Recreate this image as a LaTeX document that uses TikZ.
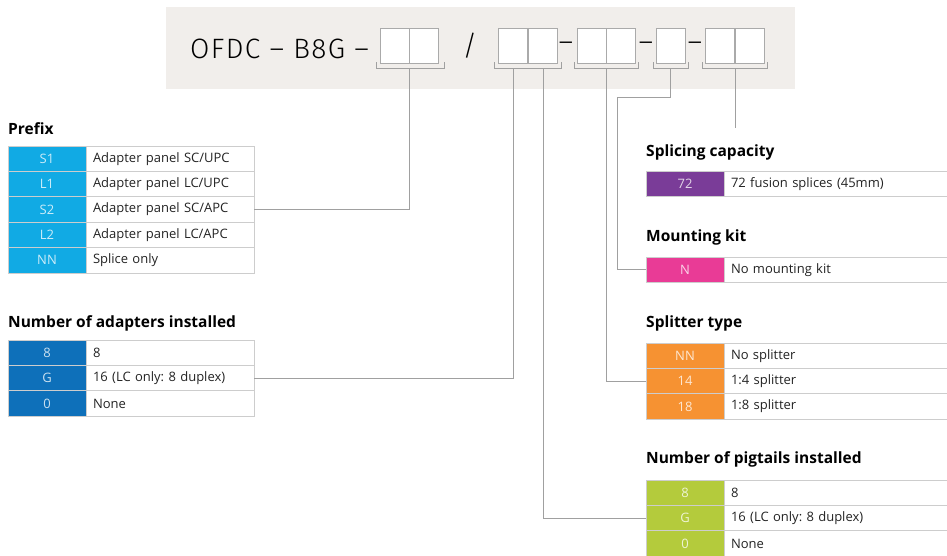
\documentclass[tikz,border=0pt]{standalone}
\usepackage{fontspec}
\setmainfont{Open Sans}
\newfontfamily\titlefont{Fira Sans Light}[LetterSpace=5]
\usetikzlibrary{positioning}
\frenchspacing
\definecolor{titlebg}{RGB}{241,238,235}
\definecolor{slotgray}{RGB}{170,170,170}
\definecolor{wiregray}{RGB}{160,160,160}
\definecolor{cellgray}{RGB}{205,205,205}
\definecolor{textgray}{RGB}{35,35,35}
\definecolor{prefixblue}{RGB}{17,170,228}
\definecolor{adapterblue}{RGB}{14,112,186}
\definecolor{spliceviolet}{RGB}{122,60,152}
\definecolor{mountpink}{RGB}{233,59,150}
\definecolor{splitorange}{RGB}{246,146,50}
\definecolor{pigtailgreen}{RGB}{180,203,60}
\tikzset{
  code/.style={fill=#1, text=white!78!#1, draw=cellgray, line width=0.8pt, minimum width=78pt, minimum height=25.4pt, inner sep=0pt, outer sep=0pt, font=\fontsize{13}{15}\selectfont},
  desc/.style={draw=cellgray, line width=0.8pt, text=textgray, minimum height=25.4pt, inner xsep=7pt, inner ysep=0pt, outer sep=0pt, align=left, text width=154pt, minimum width=168pt, font=\fontsize{13}{15}\selectfont},
  wdesc/.style={desc, text width=226pt, minimum width=240pt},
  head/.style={anchor=base west, inner sep=0pt, text=black, font=\bfseries\fontsize{15.5}{18}\selectfont},
  slot/.style={draw=slotgray, fill=white, line width=0.9pt, minimum width=29pt, minimum height=35pt, inner sep=0pt},
  wire/.style={draw=wiregray, line width=0.9pt}
}
\begin{document}
\begin{tikzpicture}[x=1pt, y=-1pt]
\useasboundingbox (0,0) rectangle (947,555);
% ordering code
\fill[titlebg] (166,7) rectangle (795,89);
\node[anchor=base west, inner sep=0pt, font=\titlefont\fontsize{28}{30}\selectfont] (title) at (190,58) {OFDC – B8G –};
\foreach \n/\x in {a/395,b/424,c/513,d/542.5,e/591.5,f/620.5,g/671,h/720,i/750} \node[slot] (s\n) at (\x,45.5) {};
\node[font=\titlefont\fontsize{28}{30}\selectfont] (slash) at (470,46) {/};
\node[font=\titlefont\fontsize{28}{30}\selectfont] (dash1) at (566,47) {–};
\node[font=\titlefont\fontsize{28}{30}\selectfont] (dash2) at (646,47) {–};
\node[font=\titlefont\fontsize{28}{30}\selectfont] (dash3) at (695,47) {–};
\draw[wire] (376,62) -- (376,68) -- (444,68) -- (444,62);\draw[wire] (494,62) -- (494,68) -- (561,68) -- (561,62);\draw[wire] (574,62) -- (574,68) -- (638,68) -- (638,62);\draw[wire] (653,62) -- (653,68) -- (688,68) -- (688,62);\draw[wire] (702,62) -- (702,68) -- (767,68) -- (767,62);
\coordinate (k1) at (409,68);\coordinate (k2) at (513,68);\coordinate (k3) at (543,68);\coordinate (k4) at (606,68);\coordinate (k5) at (670,68);\coordinate (k6) at (735,68);
% prefix
\node[head] (hprefix) at (8,134) {Prefix};
\node[code=prefixblue, anchor=north west] (pS1) at (8,146) {S1};\node[desc, right=0pt of pS1] (dS1) {Adapter panel SC/UPC};
\node[code=prefixblue, below=0pt of pS1] (pL1) {L1};\node[desc, right=0pt of pL1] (dL1) {Adapter panel LC/UPC};
\node[code=prefixblue, below=0pt of pL1] (pS2) {S2};\node[desc, right=0pt of pS2] (dS2) {Adapter panel SC/APC};
\node[code=prefixblue, below=0pt of pS2] (pL2) {L2};\node[desc, right=0pt of pL2] (dL2) {Adapter panel LC/APC};
\node[code=prefixblue, below=0pt of pL2] (pNN) {NN};\node[desc, right=0pt of pNN] (dNN) {Splice only};
% adapters
\node[head] (hadapt) at (8,327) {Number of adapters installed};
\node[code=adapterblue, anchor=north west] (a8) at (8,340) {8};\node[desc, right=0pt of a8] (da8) {8};
\node[code=adapterblue, below=0pt of a8] (aG) {G};\node[desc, right=0pt of aG] (daG) {16 (LC only: 8 duplex)};
\node[code=adapterblue, below=0pt of aG] (a0) {0};\node[desc, right=0pt of a0] (da0) {None};
% splicing capacity
\node[head] (hsplice) at (646,156) {Splicing capacity};
\node[code=spliceviolet, anchor=north west] (c72) at (646,171) {72};\node[wdesc, right=0pt of c72] (dc72) {72 fusion splices (45mm)};
% mounting kit
\node[head] (hmount) at (646,241) {Mounting kit};
\node[code=mountpink, anchor=north west] (mN) at (646,257) {N};\node[wdesc, right=0pt of mN] (dmN) {No mounting kit};
% splitter
\node[head] (hsplit) at (646,327) {Splitter type};
\node[code=splitorange, anchor=north west] (tNN) at (646,343) {NN};\node[wdesc, right=0pt of tNN] (dtNN) {No splitter};
\node[code=splitorange, below=0pt of tNN] (t14) {14};\node[wdesc, right=0pt of t14] (dt14) {1:4 splitter};
\node[code=splitorange, below=0pt of t14] (t18) {18};\node[wdesc, right=0pt of t18] (dt18) {1:8 splitter};
% pigtails
\node[head] (hpig) at (646,463) {Number of pigtails installed};
\node[code=pigtailgreen, anchor=north west] (g8) at (646,480) {8};\node[wdesc, right=0pt of g8] (dg8) {8};
\node[code=pigtailgreen, below=0pt of g8] (gG) {G};\node[wdesc, right=0pt of gG] (dgG) {16 (LC only: 8 duplex)};
\node[code=pigtailgreen, below=0pt of gG] (g0) {0};\node[wdesc, right=0pt of g0] (dg0) {None};
% connectors
\coordinate (bend) at (617,97);\coordinate (kend) at (735,128);
\draw[wire] (dS2.east) -| (k1);\draw[wire] (daG.east) -| (k2);\draw[wire] (gG.west) -| (k3);\draw[wire] (t14.west) -| (k4);
\draw[wire] (mN.west) -| (bend) -| (k5);\draw[wire] (k6) -- (kend);
\end{tikzpicture}
\end{document}
